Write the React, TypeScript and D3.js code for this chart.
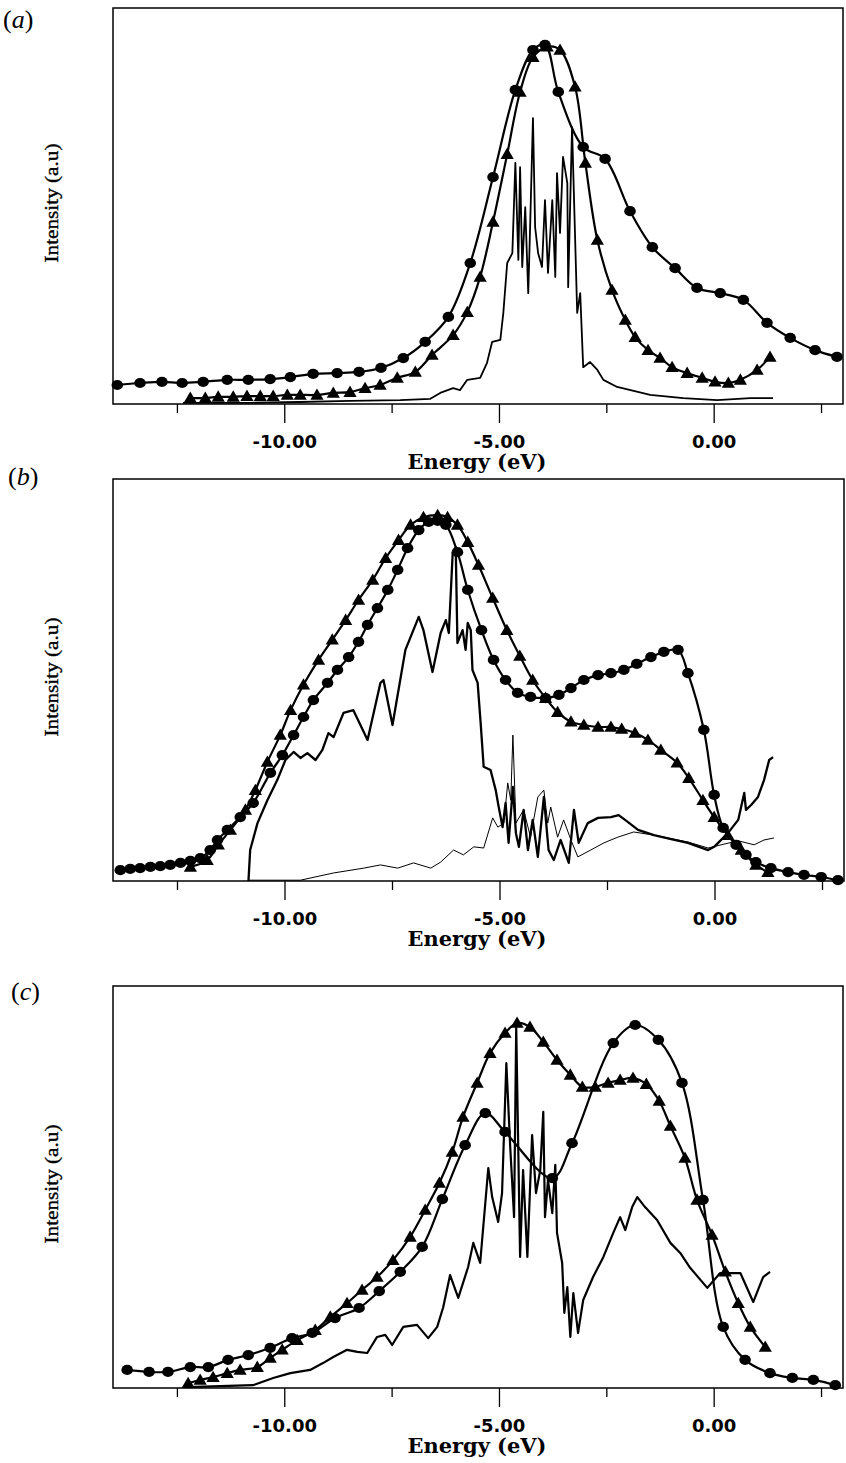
import React from 'react';
import * as d3 from 'd3';

type Pt = [number, number];

const energyDomain: [number, number] = [-14, 3];
const intensityDomain: [number, number] = [0, 100];
const majorTicks = [-10, -5, 0];
const minorTicks = [-12.5, -7.5, -2.5, 2.5];
const tickLabels = ['-10.00', '-5.00', '0.00'];
const panelLetters = ['a', 'b', 'c'];
const xTitle = 'Energy (eV)';
const yTitle = 'Intensity (a.u)';

// ---------- panel (a) ----------
const aCircles: Pt[] = [
  [-13.9, 4.8], [-13.37, 5.3], [-12.86, 5.6], [-12.39, 5.3], [-11.9, 5.6], [-11.34, 6.1],
  [-10.85, 6.1], [-10.34, 6.3], [-9.87, 6.8], [-9.34, 7.6], [-8.78, 7.8], [-8.27, 8.1],
  [-7.76, 9.1], [-7.24, 11.6], [-6.73, 15.7], [-6.19, 22.0], [-5.68, 35.6], [-5.15, 57.3],
  [-4.63, 79.3], [-4.22, 89.4], [-3.94, 90.7], [-3.63, 78.8], [-3.05, 64.9], [-2.54, 61.9],
  [-1.96, 48.7], [-1.44, 39.6], [-0.91, 34.3], [-0.4, 29.3], [0.14, 28.0], [0.68, 26.3],
  [1.23, 20.5], [1.77, 16.7], [2.35, 13.6], [2.86, 11.9],
];
const aTriangles: Pt[] = [
  [-12.2, 1.5], [-11.85, 1.5], [-11.55, 1.8], [-11.2, 1.8], [-10.88, 2.0], [-10.57, 2.0],
  [-10.27, 2.0], [-9.94, 2.3], [-9.64, 2.3], [-9.25, 2.3], [-8.87, 2.8], [-8.48, 3.0],
  [-8.13, 4.0], [-7.78, 4.8], [-7.38, 6.6], [-6.96, 8.1], [-6.57, 12.4], [-6.08, 17.4],
  [-5.75, 23.2], [-5.45, 32.1], [-5.15, 46.0], [-4.82, 63.1], [-4.52, 78.8], [-4.22, 87.6],
  [-3.89, 90.2], [-3.59, 89.4], [-3.24, 80.1], [-3.0, 60.9], [-2.72, 41.4], [-2.38, 28.8],
  [-2.07, 21.2], [-1.84, 16.9], [-1.54, 13.6], [-1.26, 11.6], [-0.98, 9.3], [-0.63, 7.8],
  [-0.28, 6.6], [0.02, 5.6], [0.33, 5.3], [0.61, 6.1], [1.0, 8.6], [1.3, 11.9],
];
const aLine: Pt[] = [
  [-12.37, 0.3], [-10.81, 0.3], [-9.64, 0.5], [-8.48, 0.8], [-7.31, 1.0], [-6.61, 1.3],
  [-6.38, 2.8], [-6.08, 4.0], [-5.92, 3.5], [-5.75, 6.1], [-5.45, 6.6], [-5.29, 10.4],
  [-5.17, 15.7], [-4.98, 16.2], [-4.91, 23.0], [-4.82, 35.6], [-4.7, 38.1], [-4.63, 60.9],
  [-4.56, 36.4], [-4.52, 59.8], [-4.47, 34.6], [-4.4, 49.7], [-4.33, 28.0], [-4.29, 43.2],
  [-4.22, 72.2], [-4.17, 44.7], [-4.1, 38.1], [-4.01, 34.6], [-3.94, 51.5], [-3.87, 33.1],
  [-3.77, 51.5], [-3.7, 32.1], [-3.66, 58.3], [-3.59, 43.2], [-3.52, 62.4], [-3.42, 55.8],
  [-3.4, 29.5], [-3.31, 69.9], [-3.19, 23.0], [-3.12, 28.0], [-3.05, 9.3], [-2.89, 10.6],
  [-2.72, 8.6], [-2.58, 6.1], [-2.26, 4.3], [-1.49, 2.3], [-0.72, 1.5], [0.07, 1.0],
  [0.84, 1.5], [1.37, 1.5],
];

// ---------- panel (b) ----------
const bCircles: Pt[] = [
  [-13.83, 2.7], [-13.6, 3.0], [-13.37, 3.2], [-13.13, 3.5], [-12.9, 3.7], [-12.67, 4.0],
  [-12.43, 4.5], [-12.2, 5.0], [-11.97, 5.7], [-11.74, 7.7], [-11.57, 10.2], [-11.34, 12.7],
  [-11.04, 15.9], [-10.74, 19.4], [-10.34, 26.9], [-10.06, 31.3], [-9.8, 36.3], [-9.57, 40.8],
  [-9.34, 45.0], [-9.01, 49.3], [-8.78, 52.5], [-8.52, 55.7], [-8.29, 59.5], [-8.08, 63.7],
  [-7.85, 67.9], [-7.61, 72.4], [-7.38, 77.4], [-7.15, 82.8], [-6.89, 87.3], [-6.66, 89.3],
  [-6.45, 89.6], [-6.26, 88.6], [-5.99, 81.8], [-5.75, 72.4], [-5.43, 62.4], [-5.15, 55.0],
  [-4.87, 50.0], [-4.59, 46.8], [-4.29, 45.8], [-3.94, 45.5], [-3.63, 46.3], [-3.35, 48.0],
  [-3.05, 50.0], [-2.72, 51.2], [-2.42, 51.7], [-2.12, 52.5], [-1.82, 54.0], [-1.49, 55.7],
  [-1.19, 57.0], [-0.86, 57.5], [-0.63, 51.7], [-0.26, 37.6], [-0.02, 21.4], [0.19, 13.2],
  [0.49, 9.0], [0.72, 6.5], [0.95, 4.7], [1.3, 3.2], [1.7, 2.2], [2.07, 1.5], [2.47, 1.0],
  [2.86, 0.2],
];
const bTriangles: Pt[] = [
  [-12.2, 3.5], [-11.81, 5.2], [-11.55, 9.0], [-11.27, 12.7], [-10.92, 17.7], [-10.69, 22.6],
  [-10.41, 29.6], [-10.11, 36.3], [-9.87, 42.5], [-9.57, 48.8], [-9.22, 55.0], [-8.9, 60.0],
  [-8.59, 64.9], [-8.29, 69.9], [-7.96, 74.9], [-7.66, 80.3], [-7.36, 84.8], [-7.08, 88.6],
  [-6.78, 90.5], [-6.45, 91.0], [-6.22, 90.5], [-5.99, 88.6], [-5.75, 84.3], [-5.5, 78.6],
  [-5.17, 70.4], [-4.84, 62.4], [-4.54, 56.0], [-4.24, 50.0], [-3.94, 45.5], [-3.66, 42.0],
  [-3.35, 39.6], [-3.05, 38.8], [-2.72, 38.3], [-2.42, 38.3], [-2.17, 37.8], [-1.86, 36.8],
  [-1.56, 35.1], [-1.26, 32.6], [-0.88, 29.4], [-0.61, 25.6], [-0.28, 20.1], [-0.02, 15.9],
  [0.3, 11.4], [0.61, 7.7], [0.95, 4.0], [1.23, 2.2],
];
const bThick: Pt[] = [
  [-10.85, 0], [-10.81, 7.7], [-10.64, 14.4], [-10.41, 20.1], [-10.18, 25.1], [-9.99, 30.1],
  [-9.8, 32.1], [-9.64, 30.6], [-9.48, 31.8], [-9.29, 30.1], [-9.13, 32.6], [-8.99, 36.8],
  [-8.87, 35.8], [-8.64, 41.8], [-8.41, 42.5], [-8.08, 35.1], [-7.78, 49.3], [-7.71, 50.0],
  [-7.5, 38.8], [-7.2, 57.5], [-6.89, 65.7], [-6.78, 62.4], [-6.57, 52.0], [-6.38, 61.7],
  [-6.26, 64.9], [-6.19, 61.7], [-6.1, 81.6], [-6.03, 83.1], [-5.99, 59.2], [-5.87, 62.4],
  [-5.8, 57.5], [-5.75, 64.2], [-5.68, 62.4], [-5.64, 52.5], [-5.52, 49.3], [-5.45, 39.3],
  [-5.38, 28.4], [-5.22, 27.6], [-5.1, 22.6], [-5.03, 18.4], [-4.94, 13.4], [-4.87, 19.4],
  [-4.8, 9.5], [-4.7, 23.4], [-4.63, 11.9], [-4.56, 8.5], [-4.45, 17.7], [-4.35, 7.7],
  [-4.24, 15.2], [-4.12, 6.0], [-3.98, 20.9], [-3.87, 7.7], [-3.75, 5.2], [-3.59, 10.2],
  [-3.4, 4.5], [-3.28, 17.7], [-3.17, 9.5], [-2.96, 14.4], [-2.72, 15.7], [-2.42, 15.9],
  [-2.24, 16.4], [-2.03, 14.7], [-1.79, 12.7], [-1.42, 11.4], [-1.02, 10.4], [-0.63, 9.5],
  [-0.16, 7.7], [-0.02, 8.5], [0.3, 11.9], [0.54, 15.2], [0.68, 21.9], [0.72, 17.7],
  [0.84, 18.9], [1.0, 20.9], [1.14, 25.1], [1.26, 30.1], [1.35, 30.8],
];
const bThin: Pt[] = [
  [-10.85, 0.2], [-9.64, 0.2], [-8.87, 2.0], [-8.17, 3.2], [-7.78, 4.0], [-7.38, 3.2],
  [-7.01, 4.5], [-6.61, 3.2], [-6.38, 4.7], [-6.08, 7.7], [-5.85, 6.5], [-5.61, 8.5],
  [-5.38, 8.2], [-5.17, 15.7], [-5.05, 13.4], [-4.91, 14.4], [-4.82, 24.4], [-4.75, 20.1],
  [-4.7, 36.3], [-4.63, 14.4], [-4.45, 17.7], [-4.29, 10.9], [-4.12, 20.9], [-3.98, 22.6],
  [-3.89, 14.4], [-3.82, 18.4], [-3.66, 10.9], [-3.52, 15.2], [-3.35, 10.2], [-3.19, 6.0],
  [-2.89, 7.7], [-2.58, 9.5], [-2.26, 10.9], [-1.89, 12.2], [-1.42, 11.4], [-0.63, 9.7],
  [-0.16, 8.2], [0.14, 9.0], [0.54, 10.0], [0.91, 9.0], [1.14, 10.2], [1.37, 10.7],
];

// ---------- panel (c) ----------
const cCircles: Pt[] = [
  [-13.67, 4.5], [-13.16, 4.0], [-12.72, 4.0], [-12.2, 5.2], [-11.78, 5.2], [-11.32, 7.0],
  [-10.85, 8.2], [-10.34, 10.0], [-9.83, 12.4], [-9.36, 13.7], [-8.83, 17.4], [-8.27, 19.9],
  [-7.8, 24.1], [-7.31, 28.9], [-6.8, 35.1], [-6.33, 47.0], [-5.8, 60.4], [-5.33, 68.4],
  [-4.87, 63.7], [-3.77, 52.2], [-3.31, 60.9], [-2.35, 85.8], [-1.84, 90.3], [-1.3, 86.6],
  [-0.75, 75.9], [-0.26, 46.8], [0.21, 15.2], [0.72, 7.0], [1.3, 3.7], [1.82, 2.5],
  [2.31, 2.0], [2.82, 0.7],
];
const cTriangles: Pt[] = [
  [-12.25, 1.2], [-11.97, 2.0], [-11.67, 2.7], [-11.34, 3.7], [-11.04, 4.5], [-10.64, 5.2],
  [-10.34, 7.5], [-10.06, 9.5], [-9.71, 11.9], [-9.29, 14.4], [-8.94, 17.7], [-8.55, 21.1],
  [-8.2, 24.4], [-7.85, 27.6], [-7.48, 31.8], [-7.08, 37.6], [-6.73, 44.3], [-6.4, 51.0],
  [-6.1, 58.7], [-5.85, 67.4], [-5.52, 75.9], [-5.22, 83.3], [-4.87, 88.3], [-4.59, 90.8],
  [-4.29, 89.8], [-3.98, 86.1], [-3.66, 81.6], [-3.35, 77.9], [-3.07, 74.9], [-2.77, 74.9],
  [-2.47, 75.9], [-2.19, 76.6], [-1.89, 77.1], [-1.58, 75.6], [-1.28, 71.4], [-1.02, 65.2],
  [-0.68, 57.2], [-0.4, 46.8], [-0.05, 38.1], [0.26, 28.9], [0.56, 21.1], [0.84, 15.2],
  [1.19, 10.2],
];
const cThick: Pt[] = [
  [-12.27, 0.2], [-10.74, 0.7], [-10.27, 2.5], [-9.87, 3.7], [-9.41, 4.5], [-9.11, 6.2],
  [-8.87, 7.7], [-8.55, 9.5], [-8.31, 9.0], [-8.08, 8.7], [-7.85, 12.7], [-7.66, 13.2],
  [-7.5, 10.7], [-7.24, 15.2], [-6.92, 15.7], [-6.66, 12.4], [-6.45, 15.2], [-6.31, 20.1],
  [-6.15, 28.1], [-5.96, 22.4], [-5.73, 30.1], [-5.61, 36.1], [-5.45, 31.1], [-5.26, 54.7],
  [-5.17, 47.5], [-5.03, 41.3], [-4.94, 48.5], [-4.84, 80.8], [-4.75, 60.0], [-4.66, 42.5],
  [-4.61, 89.8], [-4.52, 32.6], [-4.45, 54.2], [-4.35, 32.6], [-4.24, 62.9], [-4.15, 48.5],
  [-4.05, 54.2], [-3.98, 68.7], [-3.94, 42.5], [-3.87, 51.7], [-3.77, 43.5], [-3.7, 55.5],
  [-3.66, 38.6], [-3.54, 31.1], [-3.49, 18.7], [-3.42, 25.1], [-3.35, 12.7], [-3.28, 23.6],
  [-3.17, 13.7], [-3.05, 21.9], [-2.82, 27.6], [-2.58, 32.6], [-2.35, 38.6], [-2.19, 42.5],
  [-2.07, 39.3], [-1.91, 45.0], [-1.79, 47.5], [-1.61, 45.0], [-1.33, 41.8], [-1.02, 36.1],
  [-0.79, 33.6], [-0.56, 29.9], [-0.16, 24.9], [0.14, 28.6], [0.61, 28.6], [0.91, 21.4],
  [1.14, 27.6], [1.3, 28.9],
];

type PanelSpec = {
  letter: string;
  top: number;
  bottom: number;
  left: number;
  right: number;
  labelX: number;
  labelY: number;
  circles: Pt[];
  triangles: Pt[];
  lines: { data: Pt[]; width: number }[];
};

const panels: PanelSpec[] = [
  { letter: panelLetters[0], top: 8, bottom: 404, left: 113, right: 843, labelX: 3, labelY: 28,
    circles: aCircles, triangles: aTriangles, lines: [{ data: aLine, width: 1.8 }] },
  { letter: panelLetters[1], top: 479, bottom: 881, left: 113, right: 844, labelX: 8, labelY: 485,
    circles: bCircles, triangles: bTriangles, lines: [{ data: bThin, width: 1 }, { data: bThick, width: 2.3 }] },
  { letter: panelLetters[2], top: 986, bottom: 1388, left: 113, right: 843, labelX: 11, labelY: 1000,
    circles: cCircles, triangles: cTriangles, lines: [{ data: cThick, width: 2.2 }] },
];

function Panel({ p }: { p: PanelSpec }) {
  const x = d3.scaleLinear().domain(energyDomain).range([p.left, p.right]);
  const y = d3.scaleLinear().domain(intensityDomain).range([p.bottom, p.top]);
  const straight = d3.line<Pt>().x((d) => x(d[0])).y((d) => y(d[1])).curve(d3.curveLinear);
  const smooth = d3.line<Pt>().x((d) => x(d[0])).y((d) => y(d[1])).curve(d3.curveCatmullRom.alpha(0.5));
  const tri = 'M0,-6.5L6.6,4.8L-6.6,4.8Z';
  const midY = (p.top + p.bottom) / 2 - 3;
  return (
    <g>
      <text x={p.labelX} y={p.labelY} fontFamily="Liberation Serif" fontSize={26} fill="#000">
        (<tspan fontStyle="italic">{p.letter}</tspan>)
      </text>
      <text
        transform={`translate(58,${midY}) rotate(-90)`}
        textAnchor="middle"
        fontFamily="Liberation Serif"
        fontSize={19}
        textLength={119}
        lengthAdjust="spacingAndGlyphs"
        fill="#000"
        stroke="#000"
        strokeWidth={0.35}
      >
        {yTitle}
      </text>
      {p.lines.map((l, i) => (
        <path key={i} d={straight(l.data) || ''} fill="none" stroke="#000" strokeWidth={l.width} strokeLinejoin="round" />
      ))}
      <path d={smooth(p.triangles) || ''} fill="none" stroke="#000" strokeWidth={2.2} />
      <path d={smooth(p.circles) || ''} fill="none" stroke="#000" strokeWidth={2.2} />
      {p.triangles.map((d, i) => (
        <path key={'t' + i} d={tri} transform={`translate(${x(d[0])},${y(d[1])})`} fill="#000" />
      ))}
      {p.circles.map((d, i) => (
        <ellipse key={'c' + i} cx={x(d[0])} cy={y(d[1])} rx={5.8} ry={5.1} fill="#000" />
      ))}
      <rect x={p.left} y={p.top} width={p.right - p.left} height={p.bottom - p.top} fill="none" stroke="#000" strokeWidth={1.5} />
      {majorTicks.map((t) => (
        <line key={'M' + t} x1={x(t)} x2={x(t)} y1={p.bottom} y2={p.bottom + 19} stroke="#000" strokeWidth={1.3} />
      ))}
      {minorTicks.map((t) => (
        <line key={'m' + t} x1={x(t)} x2={x(t)} y1={p.bottom} y2={p.bottom + 9} stroke="#000" strokeWidth={1.3} />
      ))}
      {majorTicks.map((t, i) => (
        <text key={'L' + t} x={x(t)} y={p.bottom + 44} textAnchor="middle" fontFamily="DejaVu Sans" fontWeight="bold" fontSize={18} fill="#000">
          {tickLabels[i]}
        </text>
      ))}
      <text x={477} y={p.bottom + 65} textAnchor="middle" fontFamily="DejaVu Serif" fontWeight="bold" fontSize={20} textLength={139} lengthAdjust="spacingAndGlyphs" fill="#000">
        {xTitle}
      </text>
    </g>
  );
}

export default function App() {
  const W = 846;
  const H = 1463;
  return (
    <svg width={W} height={H} style={{ position: 'absolute', left: 0, top: 0, background: '#fff' }}>
      <rect width={W} height={H} fill="#fff" />
      {panels.map((p) => (
        <Panel key={p.letter} p={p} />
      ))}
    </svg>
  );
}
